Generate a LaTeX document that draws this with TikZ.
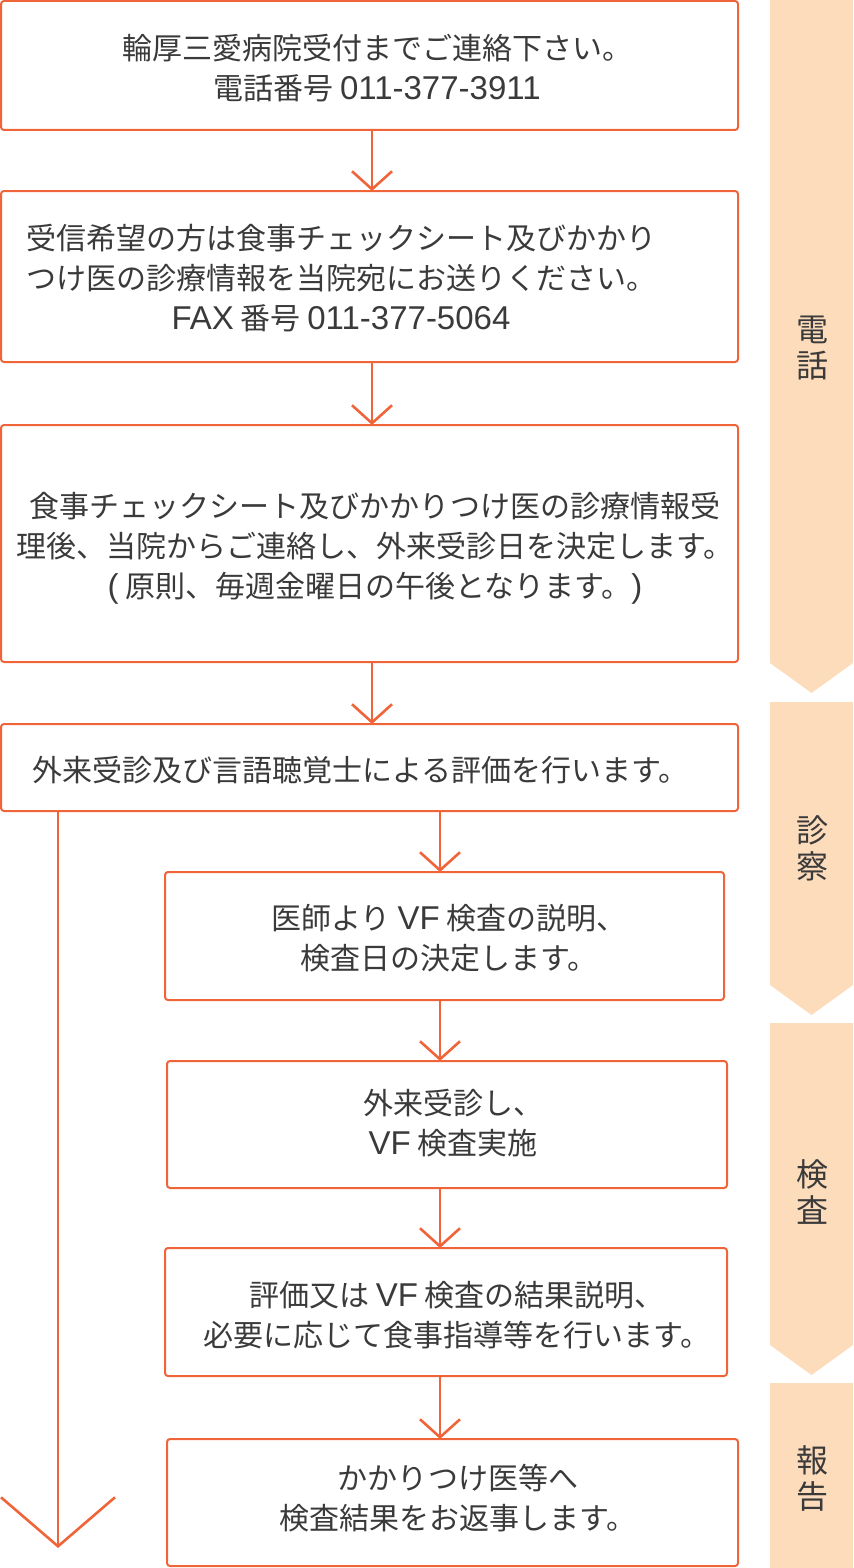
\documentclass[tikz,border=0pt]{standalone}
\usepackage{fontspec}
\setmainfont{Noto Sans CJK JP}
\newfontfamily\latinfont[Scale=1.1]{Liberation Sans}
\newcommand{\lat}[1]{{\latinfont #1}}
\usetikzlibrary{arrows.meta,positioning}
\definecolor{lineorange}{HTML}{F0643A}
\definecolor{bandpeach}{HTML}{FDDCBC}
\definecolor{textgray}{HTML}{3A3A3A}

\begin{document}
\begin{tikzpicture}
[x=0.5pt, y=-0.5pt,
box/.style={draw=lineorange, line width=1pt, rounded corners=1.5pt, inner sep=0pt, outer sep=0pt},
txt/.style={text=textgray, align=center, font=\fontsize{15pt}{20pt}\selectfont},
band/.style={fill=bandpeach, draw=none},
bandtxt/.style={text=textgray, align=center, font=\fontsize{16pt}{18pt}\selectfont},
arr/.style={draw=lineorange, line width=1.3pt, -{Straight Barb[length=9pt,width=20pt]}},
longarr/.style={draw=lineorange, line width=1.3pt, -{Straight Barb[length=24.5pt,width=57pt]}}
]
  \useasboundingbox (0,0) rectangle (853,1568);

  % side bands
  \fill[band] (770,0) -- (853,0) -- (853,663) -- (811.5,693) -- (770,663) -- cycle;
  \fill[band] (770,702) -- (853,702) -- (853,985) -- (811.5,1015) -- (770,985) -- cycle;
  \fill[band] (770,1023) -- (853,1023) -- (853,1345) -- (811.5,1375) -- (770,1345) -- cycle;
  \fill[band] (770,1383) -- (853,1383) -- (853,1568) -- (770,1568) -- cycle;
  \node[bandtxt] (phone)   at (812,348)  {電\\話};
  \node[bandtxt] (consult) at (812,848)  {診\\察};
  \node[bandtxt] (exam)    at (812,1192) {検\\査};
  \node[bandtxt] (report)  at (812,1478) {報\\告};

  % boxes
  \node[box, minimum width=368.5pt, minimum height=64.5pt]  (b1) at (369.5,65.5)  {};
  \node[box, minimum width=368.5pt, minimum height=85.5pt]  (b2) at (369.5,276.5) {};
  \node[box, minimum width=368.5pt, minimum height=118.5pt] (b3) at (369.5,543.5) {};
  \node[box, minimum width=368.5pt, minimum height=43.5pt]  (b4) at (369.5,767.5) {};
  \node[box, minimum width=279.5pt, minimum height=64pt]    (b5) at (444.5,936)   {};
  \node[box, minimum width=280pt,   minimum height=63.5pt]  (b6) at (447,1124.5)  {};
  \node[box, minimum width=281pt,   minimum height=64pt]    (b7) at (446,1312)    {};
  \node[box, minimum width=285.5pt, minimum height=63.5pt]  (b8) at (452.5,1502.5){};

  % texts
  \node[txt] (t1) at (377,68) {輪厚三愛病院受付までご連絡下さい。\\電話番号 \lat{011-377-3911}};
  \node[txt] (t2) at (341,278) {受信希望の方は食事チェックシート及びかかり\\つけ医の診療情報を当院宛にお送りください。\\\lat{FAX} 番号 \lat{011-377-5064}};
  \node[txt] (t3) at (375,548) {食事チェックシート及びかかりつけ医の診療情報受\\理後、当院からご連絡し、外来受診日を決定します。\\\lat{(} 原則、毎週金曜日の午後となります。\lat{)}};
  \node[txt, anchor=west] (t4) at (25,770) {外来受診及び言語聴覚士による評価を行います。};
  \node[txt] (t5) at (449,938)  {医師より \lat{VF} 検査の説明、\\検査日の決定します。};
  \node[txt] (t6) at (453,1123) {外来受診し、\\\lat{VF} 検査実施};
  \node[txt] (t7) at (457,1315) {評価又は \lat{VF} 検査の結果説明、\\必要に応じて食事指導等を行います。};
  \node[txt] (t8) at (458,1498) {かかりつけ医等へ\\検査結果をお返事します。};

  % arrows
  \coordinate (colA) at (372,0);
  \coordinate (colB) at (440,0);
  \coordinate (colC) at (58,0);
  \coordinate (end) at (58,1548);
  \draw[arr] (b1.south -| colA) -- (b2.north -| colA);
  \draw[arr] (b2.south -| colA) -- (b3.north -| colA);
  \draw[arr] (b3.south -| colA) -- (b4.north -| colA);
  \draw[arr] (b4.south -| colB) -- (b5.north -| colB);
  \draw[arr] (b5.south -| colB) -- (b6.north -| colB);
  \draw[arr] (b6.south -| colB) -- (b7.north -| colB);
  \draw[arr] (b7.south -| colB) -- (b8.north -| colB);
  \draw[longarr] (b4.south -| colC) -- (end);
\end{tikzpicture}
\end{document}
